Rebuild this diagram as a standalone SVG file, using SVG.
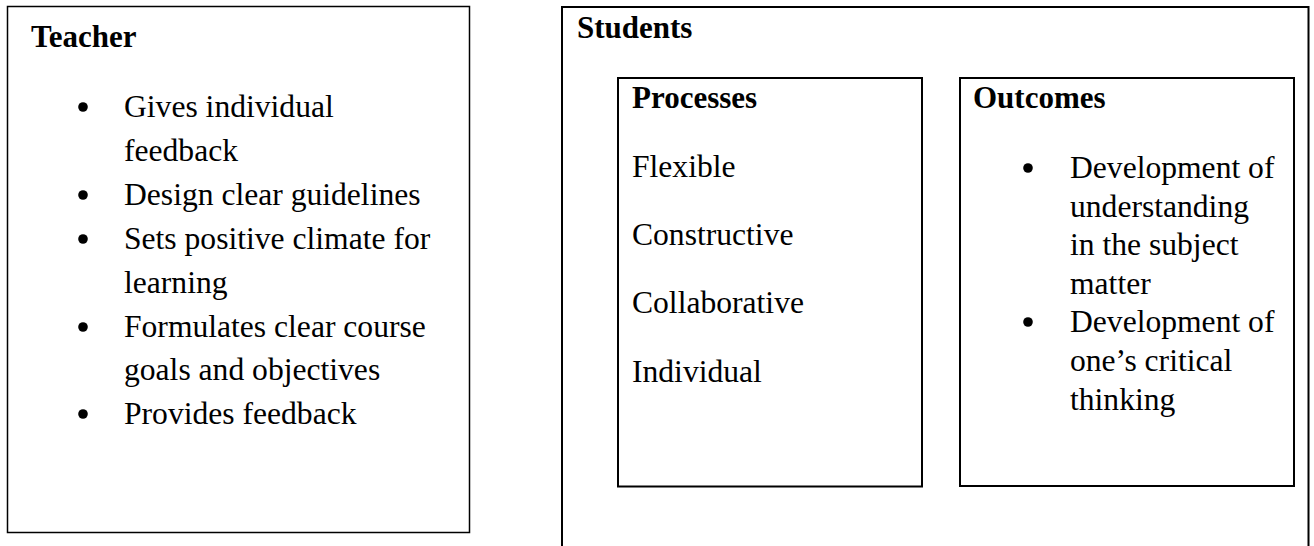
<svg xmlns="http://www.w3.org/2000/svg" width="1314" height="546" viewBox="0 0 1314 546">
  <style>
    .box { fill: none; stroke: #000; stroke-width: 2; }
    .thin { stroke-width: 1.5; }
    .t { font-family: "Liberation Serif", "Times New Roman", serif; font-size: 31.6px; fill: #000; }
    .h { font-weight: bold; font-size: 31px; }
    .dot { fill: #000; }
  </style>

  <!-- Teacher panel -->
  <g id="teacher">
    <rect class="box thin" x="7.5" y="6.5" width="462" height="526"/>
    <text class="t h" x="31" y="47">Teacher</text>
    <circle class="dot" cx="83" cy="107" r="4.8"/>
    <text class="t" x="124" y="117">Gives individual</text>
    <text class="t" x="124" y="161">feedback</text>
    <circle class="dot" cx="83" cy="195" r="4.8"/>
    <text class="t" x="124" y="205">Design clear guidelines</text>
    <circle class="dot" cx="83" cy="239" r="4.8"/>
    <text class="t" x="124" y="249">Sets positive climate for</text>
    <text class="t" x="124" y="293">learning</text>
    <circle class="dot" cx="83" cy="327" r="4.8"/>
    <text class="t" x="124" y="337">Formulates clear course</text>
    <text class="t" x="124" y="380">goals and objectives</text>
    <circle class="dot" cx="83" cy="414" r="4.8"/>
    <text class="t" x="124" y="424">Provides feedback</text>
  </g>

  <!-- Students panel (open at the bottom edge) -->
  <g id="students">
    <path class="box" d="M562 546 V7 H1308.5 V546"/>
    <text class="t h" x="577" y="38">Students</text>
  </g>

  <g id="processes">
    <rect class="box" x="618" y="78" width="304" height="408.5"/>
    <text class="t h" x="632" y="108">Processes</text>
    <text class="t" x="632" y="177">Flexible</text>
    <text class="t" x="632" y="245">Constructive</text>
    <text class="t" x="632" y="313">Collaborative</text>
    <text class="t" x="632" y="382">Individual</text>
  </g>

  <g id="outcomes">
    <rect class="box" x="960" y="78" width="334" height="408"/>
    <text class="t h" x="973" y="108">Outcomes</text>
    <circle class="dot" cx="1028" cy="168" r="4.8"/>
    <text class="t" x="1070" y="178">Development of</text>
    <text class="t" x="1070" y="217">understanding</text>
    <text class="t" x="1070" y="255">in the subject</text>
    <text class="t" x="1070" y="294">matter</text>
    <circle class="dot" cx="1028" cy="322" r="4.8"/>
    <text class="t" x="1070" y="332">Development of</text>
    <text class="t" x="1070" y="371">one’s critical</text>
    <text class="t" x="1070" y="410">thinking</text>
  </g>

  <g id="connectors"/>
</svg>
